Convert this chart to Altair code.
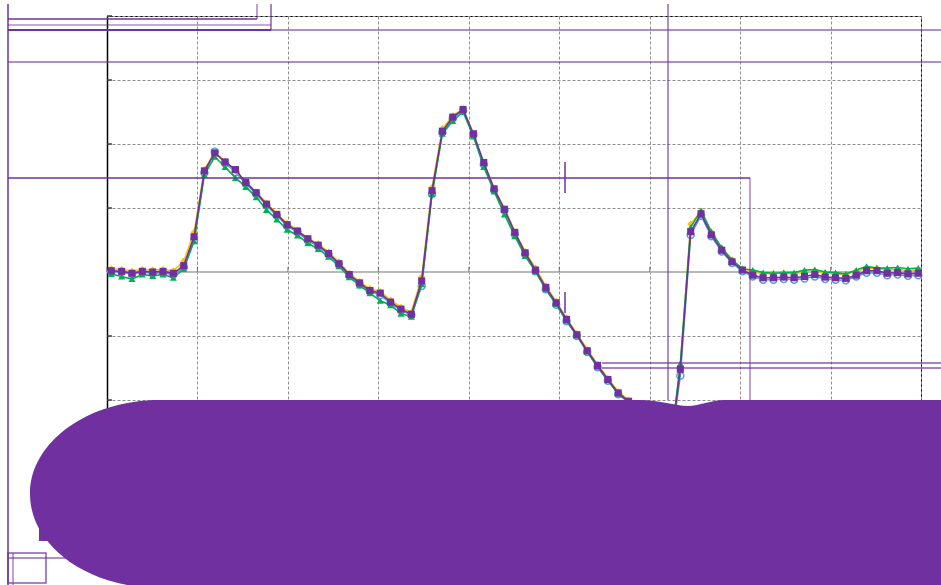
import altair as alt
import pandas as pd

# ---- data -----------------------------------------------------------------
sample = list(range(79))  # sample number along the horizontal axis

series_names = ["Run B", "Run A", "Run C", "Run D"]

run_a = [0.05, 0.04, 0.01, 0.04, 0.03, 0.04, 0.02, 0.17, 0.62, 1.60,
         1.87, 1.73, 1.58, 1.41, 1.25, 1.08, 0.91, 0.76, 0.66, 0.53,
         0.44, 0.31, 0.16, -0.02, -0.15, -0.26, -0.31, -0.44, -0.55, -0.63,
         -0.08, 1.32, 2.24, 2.44, 2.55, 2.15, 1.70, 1.31, 0.99, 0.63,
         0.32, 0.06, -0.22, -0.46, -0.72, -0.96, -1.21, -1.44, -1.66, -1.87,
         -2.00, -2.19, -2.39, -2.58, -2.76, -1.47, 0.75, 0.95, 0.62, 0.37,
         0.19, 0.05, 0.01, -0.03, -0.02, -0.02, -0.03, 0.00, 0.02, -0.02,
         -0.03, -0.04, 0.01, 0.06, 0.06, 0.03, 0.04, 0.02, 0.03]

run_b = [0.00, 0.00, -0.03, 0.00, -0.02, -0.01, -0.04, 0.07, 0.50, 1.55,
         1.88, 1.70, 1.56, 1.38, 1.22, 1.04, 0.88, 0.72, 0.62, 0.49,
         0.40, 0.27, 0.12, -0.06, -0.19, -0.30, -0.36, -0.49, -0.60, -0.67,
         -0.22, 1.22, 2.18, 2.40, 2.52, 2.14, 1.68, 1.28, 0.96, 0.59,
         0.28, 0.01, -0.27, -0.51, -0.77, -1.00, -1.25, -1.49, -1.70, -1.91,
         -2.04, -2.23, -2.43, -2.62, -2.80, -1.62, 0.58, 0.88, 0.56, 0.32,
         0.14, 0.01, -0.07, -0.12, -0.12, -0.11, -0.12, -0.10, -0.07, -0.11,
         -0.12, -0.13, -0.07, -0.01, -0.01, -0.05, -0.04, -0.06, -0.05]

run_c = [-0.03, -0.07, -0.11, -0.04, -0.06, -0.04, -0.09, 0.05, 0.48, 1.52,
         1.80, 1.64, 1.47, 1.33, 1.17, 0.97, 0.82, 0.66, 0.57, 0.45,
         0.36, 0.24, 0.09, -0.08, -0.21, -0.33, -0.45, -0.52, -0.65, -0.70,
         -0.19, 1.22, 2.16, 2.36, 2.50, 2.12, 1.64, 1.26, 0.90, 0.56,
         0.25, 0.01, -0.27, -0.50, -0.76, -0.99, -1.24, -1.48, -1.69, -1.90,
         -2.03, -2.22, -2.42, -2.61, -2.79, -1.43, 0.70, 0.96, 0.63, 0.38,
         0.19, 0.05, 0.03, -0.01, -0.02, -0.01, -0.01, 0.03, 0.04, 0.00,
         -0.01, -0.03, 0.03, 0.09, 0.06, 0.06, 0.07, 0.05, 0.06]

run_d = [0.02, 0.01, -0.02, 0.01, 0.00, 0.01, -0.02, 0.10, 0.55, 1.58,
         1.86, 1.72, 1.60, 1.40, 1.24, 1.06, 0.90, 0.74, 0.64, 0.52,
         0.42, 0.29, 0.13, -0.04, -0.17, -0.29, -0.33, -0.47, -0.58, -0.66,
         -0.14, 1.27, 2.20, 2.42, 2.54, 2.16, 1.71, 1.30, 0.98, 0.62,
         0.30, 0.03, -0.24, -0.48, -0.74, -0.98, -1.23, -1.46, -1.68, -1.89,
         -2.02, -2.21, -2.41, -2.60, -2.78, -1.52, 0.63, 0.91, 0.58, 0.34,
         0.16, 0.03, -0.05, -0.09, -0.09, -0.08, -0.09, -0.07, -0.04, -0.08,
         -0.09, -0.10, -0.05, 0.02, 0.02, -0.02, -0.01, -0.03, -0.02]

x_grid = [-0.416, 8.326, 17.068, 25.81, 34.552, 43.294, 52.036, 60.778, 69.52, 78.262]
y_grid = [-4, -3, -2, -1, 0, 1, 2, 3, 4]

# ---- layout / style -------------------------------------------------------
LEFT, TOP, RIGHT, BOTTOM = 107, 16, 20, 57
W, H = 941 - LEFT - RIGHT, 585 - TOP - BOTTOM
PURPLE = "#7030A0"

styles = {
    "Run A": dict(color="#FFC000", shape="diamond", filled=True),
    "Run B": dict(color="#5B9BD5", shape="circle", filled=False),
    "Run C": dict(color="#00B050", shape="triangle-up", filled=True),
    "Run D": dict(color="#7030A0", shape="square", filled=True),
}
values_by_run = {"Run A": run_a, "Run B": run_b, "Run C": run_c, "Run D": run_d}

rows = []
for name in series_names:
    for n, v in zip(sample, values_by_run[name]):
        rows.append({"n": n, "v": v, "run": name})
df = pd.DataFrame(rows)

xscale = alt.Scale(domain=[x_grid[0], x_grid[-1]], nice=False, zero=False)
yscale = alt.Scale(domain=[y_grid[0], y_grid[-1]], nice=False, zero=False)
xaxis = alt.Axis(values=x_grid, grid=True, gridDash=[3, 2], gridColor="#8f8f8f",
                 gridWidth=1, labels=False, ticks=False, domain=False, title=None)
yaxis = alt.Axis(values=y_grid, grid=True, gridDash=[3, 2], gridColor="#8f8f8f",
                 gridWidth=1, labels=False, ticks=False, domain=True,
                 domainColor="#000000", domainWidth=1.5, title=None)


def X(field):
    return alt.X(f"{field}:Q", scale=xscale, axis=xaxis)


def Y(field):
    return alt.Y(f"{field}:Q", scale=yscale, axis=yaxis)


layers = []

# zero reference line with small upward ticks at the grid columns
zero_df = pd.DataFrame({"n": x_grid, "z": [0] * len(x_grid)})
layers.append(alt.Chart(zero_df).mark_rule(color="#b8b8b8", strokeWidth=2)
              .encode(y=Y("z")))
layers.append(alt.Chart(zero_df).mark_tick(orient="vertical", size=5, thickness=1,
                                           color="#505050", yOffset=-2.5)
              .encode(x=X("n"), y=Y("z")))

# inward ticks on the left axis
tick_df = pd.DataFrame({"g": y_grid})
layers.append(alt.Chart(tick_df).mark_rule(color="#404040", strokeWidth=1.5)
              .encode(x=alt.value(0), x2=alt.value(5), y=Y("g")))

# the measured runs
for name in series_names:
    st = styles[name]
    sub = df[df["run"] == name]
    base = alt.Chart(sub)
    layers.append(base.mark_line(color=st["color"], strokeWidth=1.6)
                  .encode(x=X("n"), y=Y("v")))
    layers.append(base.mark_point(shape=st["shape"], size=50, filled=st["filled"],
                                  color=st["color"], opacity=1,
                                  strokeWidth=1.4)
                  .encode(x=X("n"), y=Y("v")))

# annotation strokes drawn over the plot
deco = alt.Data(values=[{}])


def seg(x1, y1, x2, y2, alpha=1.0, w=1.5):
    return (alt.Chart(deco)
            .mark_rule(color=PURPLE, strokeWidth=w, opacity=alpha)
            .encode(x=alt.value(x1 - LEFT), x2=alt.value(x2 - LEFT),
                    y=alt.value(y1 - TOP), y2=alt.value(y2 - TOP)))


strokes = [
    (8, 4, 8, 585, 1.0, 1.5),
    (8, 19, 257, 19, 1.0, 1.5),
    (257, 4, 257, 19, 0.6, 1.5),
    (8, 25, 271, 25, 0.55, 1.5),
    (271, 4, 271, 30, 0.6, 2),
    (8, 30, 271, 30, 1.0, 1.8),
    (271, 30, 941, 30, 0.55, 2),
    (8, 62, 941, 62, 0.55, 2),
    (668, 4, 668, 400, 0.55, 2),
    (8, 178, 750, 178, 1.0, 1.5),
    (750, 178, 750, 400, 0.6, 1.5),
    (565, 162, 565, 193, 1.0, 1.5),
    (565, 292, 565, 313, 1.0, 1.5),
    (602, 363, 941, 363, 0.8, 1.5),
    (602, 368, 941, 368, 0.8, 1.5),
    (8, 558, 200, 558, 0.55, 2),
    (13, 553, 13, 585, 0.6, 1.5),
]
for s in strokes:
    layers.append(seg(*s))

layers.append(alt.Chart(deco).mark_rect(filled=False, stroke=PURPLE, strokeWidth=1.5,
                                        opacity=0.8)
              .encode(x=alt.value(8 - LEFT), x2=alt.value(46 - LEFT),
                      y=alt.value(553 - TOP), y2=alt.value(583 - TOP)))

# solid cover block
layers.append(alt.Chart(deco).mark_rect(color=PURPLE, opacity=1)
              .encode(x=alt.value(39 - LEFT), x2=alt.value(300 - LEFT),
                      y=alt.value(470 - TOP), y2=alt.value(541 - TOP)))
blob = ("M 30 494 C 30 442 88 400 160 400 L 640 400 "
        "C 660 400 675 406 688 406 C 700 406 710 400 725 400 "
        "L 960 400 L 960 600 L 160 600 L 160 588 C 88 588 30 546 30 494 Z")
layers.append(alt.Chart(deco).mark_point(shape=blob, size=4, filled=True,
                                         color=PURPLE, opacity=1, strokeWidth=0)
              .encode(x=alt.value(-LEFT), y=alt.value(-TOP)))

chart = (alt.layer(*layers)
         .properties(width=W, height=H,
                     padding={"left": LEFT, "top": TOP, "right": RIGHT, "bottom": BOTTOM},
                     autosize=alt.AutoSizeParams(type="none"),
                     background="white")
         .configure_view(stroke="#000000", strokeWidth=1))

chart.save("out.html", embed_options={"renderer": "svg", "actions": False})
